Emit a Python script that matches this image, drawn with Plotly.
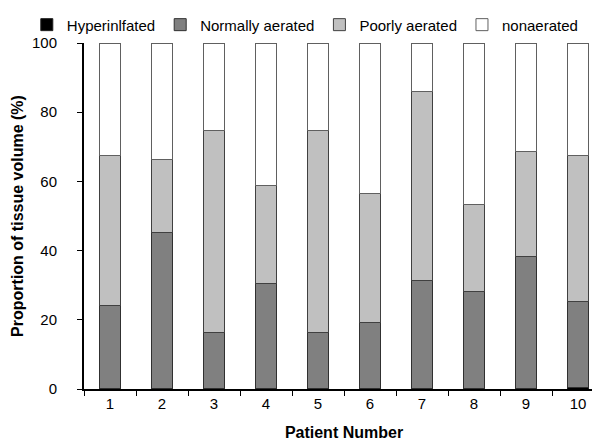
import plotly.graph_objects as go

patients = ["1", "2", "3", "4", "5", "6", "7", "8", "9", "10"]
hyperinflated = [0.1, 0.1, 0.1, 0.1, 0.1, 0.1, 0.1, 0.1, 0.1, 0.4]
normally = [24.1, 45.1, 16.3, 30.4, 16.3, 19.0, 31.2, 28.0, 38.1, 24.9]
poorly = [43.3, 21.1, 58.4, 28.3, 58.4, 37.4, 54.8, 25.1, 30.5, 42.2]
nonaerated = [32.5, 33.7, 25.2, 41.2, 25.2, 43.5, 13.9, 46.8, 31.3, 32.5]
y_ticks = [0, 20, 40, 60, 80, 100]

series = [
    ("Hyperinlfated", hyperinflated, "#000000", "#202020"),
    ("Normally aerated", normally, "#808080", "#303030"),
    ("Poorly aerated", poorly, "#c0c0c0", "#404040"),
    ("nonaerated", nonaerated, "#ffffff", "#606060"),
]

fig = go.Figure()
for name, vals, fill, line in series:
    fig.add_trace(go.Bar(
        x=patients, y=vals, name=name,
        marker=dict(color=fill, line=dict(color=line, width=1)),
        width=0.41,
    ))

font = "Liberation Sans, Arial, Helvetica, sans-serif"
fig.update_layout(
    barmode="stack",
    width=600, height=442,
    margin=dict(l=76, r=4, t=35, b=61, autoexpand=False),
    plot_bgcolor="white", paper_bgcolor="white",
    font=dict(family=font, size=15, color="#000000"),
    legend=dict(orientation="h", x=-0.11, xanchor="left",
                y=1.1, yanchor="top",
                traceorder="normal", font=dict(size=15),
                itemwidth=30, tracegroupgap=0, bgcolor="rgba(0,0,0,0)"),
)
fig.update_xaxes(
    type="category", tickson="boundaries", ticks="outside", ticklen=5,
    tickcolor="#000", showline=True, linecolor="#000", linewidth=2,
    title=dict(text="<b>Patient Number</b>", font=dict(size=16), standoff=16),
    showgrid=False, automargin=False,
)
fig.update_yaxes(
    range=[0, 100], tickvals=y_ticks, ticks="outside", ticklen=5,
    ticklabelstandoff=17,
    tickcolor="#000", showline=True, linecolor="#000", linewidth=2,
    title=dict(text="<b>Proportion of tissue volume (%)</b>", font=dict(size=16), standoff=4),
    showgrid=False, zeroline=False, automargin=False,
)
fig.write_html("out.html")
